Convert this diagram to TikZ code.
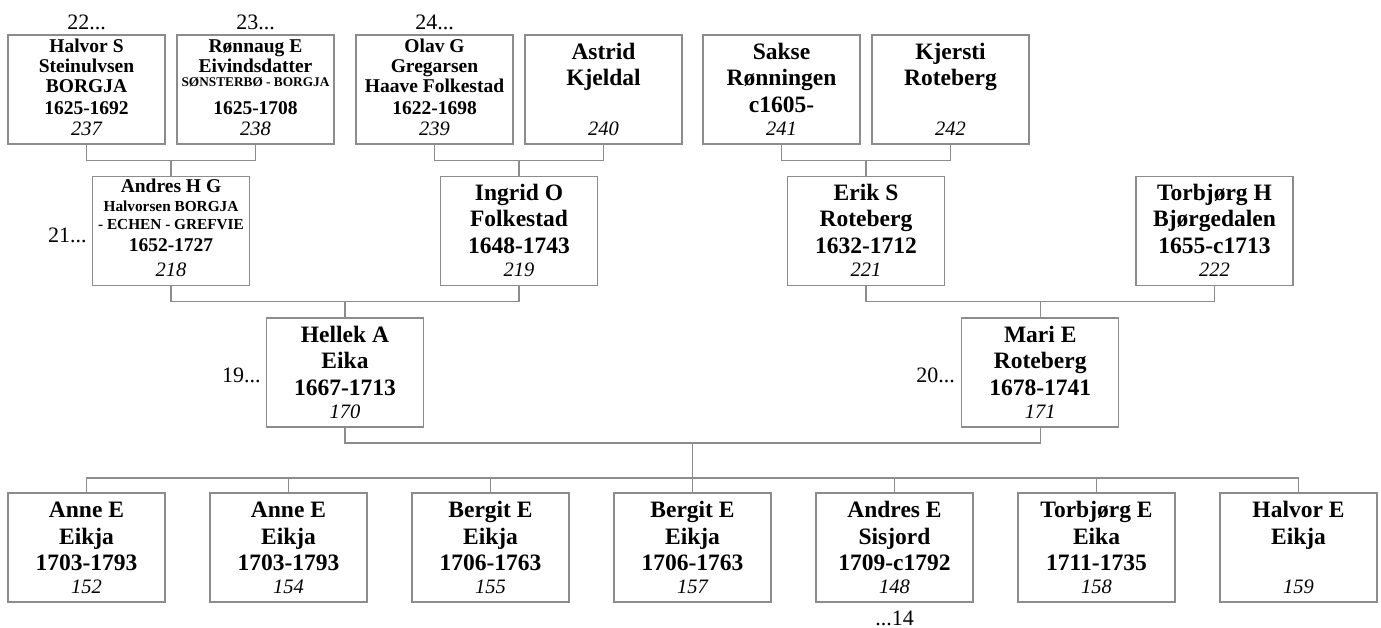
\documentclass[tikz,border=0pt]{standalone}
\usepackage{fontspec}
\setmainfont{Liberation Serif}
\usetikzlibrary{calc}
\definecolor{lc}{HTML}{8C8C8C}
\tikzset{
  pbox/.style={draw=lc, line width=1.4pt, minimum width=157pt, minimum height=109pt, inner sep=0pt, outer sep=0pt},
  ptxt/.style={inner sep=0pt, outer sep=0pt, align=center},
  big/.style={font=\bfseries\fontsize{23.5}{26.5}\selectfont},
  mid/.style={font=\bfseries\fontsize{19.5}{20}\selectfont},
  pnum/.style={inner sep=0pt, outer sep=0pt, font=\itshape\fontsize{20.5}{22}\selectfont},
  gen/.style={inner sep=0pt, outer sep=0pt, font=\fontsize{22}{24}\selectfont},
  conn/.style={draw=lc, line width=1.1pt}
}
\newcommand\PBox[7]{%
  \node[pbox, anchor=north west] (#1) at (#2,#3) {};
  \node[ptxt, #5, anchor=north] at ($(#1.north)+(0,#4)$) {\rule{0pt}{18pt}#6};
  \node[pnum, anchor=base] at ($(#1.south)+(0,-8.5)$) {#7};
}
\newcommand\Couple[3]{%
  \coordinate (m#3) at ($(#1.south)!0.5!(#3.north)$);
  \draw[conn] (#1.south) -- (#1.south |- m#3) -| (#2.south);
  \draw[conn] (#3.north) -- (#3.north |- m#3);
}
\begin{document}
\begin{tikzpicture}[x=1pt, y=-1pt]
\useasboundingbox (0,0) rectangle (1381,628);
% top row
\PBox{p237}{8}{35}{0}{mid}{Halvor S\\Steinulvsen\\BORGJA\\[2pt]1625-1692}{237}
\PBox{p238}{177}{35}{0}{mid}{Rønnaug E\\Eivindsdatter\\[-6pt]{\fontsize{13.3}{14}\selectfont SØNSTERBØ - BORGJA}\\[8pt]1625-1708}{238}
\PBox{p239}{356}{35}{0}{mid}{Olav G\\Gregarsen\\Haave Folkestad\\[2pt]1622-1698}{239}
\PBox{p240}{525}{35}{6.5}{big}{Astrid\\Kjeldal}{240}
\PBox{p241}{703}{35}{6.5}{big}{Sakse\\Rønningen\\c1605-}{241}
\PBox{p242}{872}{35}{6.5}{big}{Kjersti\\Roteberg}{242}
% second row
\PBox{p218}{92.5}{176.5}{-2}{mid}{Andres H G\\[-1pt]{\fontsize{15.3}{16}\selectfont Halvorsen BORGJA}\\[-2pt]{\fontsize{15.3}{16}\selectfont - ECHEN - GREFVIE}\\[2pt]1652-1727}{218}
\PBox{p219}{440.5}{176.5}{6}{big}{Ingrid O\\Folkestad\\1648-1743}{219}
\PBox{p221}{787.5}{176.5}{6}{big}{Erik S\\Roteberg\\1632-1712}{221}
\PBox{p222}{1136}{176.5}{6}{big}{Torbjørg H\\Bjørgedalen\\1655-c1713}{222}
% third row
\PBox{p170}{266.5}{318}{6}{big}{Hellek A\\Eika\\1667-1713}{170}
\PBox{p171}{961.75}{318}{6}{big}{Mari E\\Roteberg\\1678-1741}{171}
% children
\PBox{c152}{8}{493}{6.5}{big}{Anne E\\Eikja\\1703-1793}{152}
\PBox{c154}{210}{493}{6.5}{big}{Anne E\\Eikja\\1703-1793}{154}
\PBox{c155}{412}{493}{6.5}{big}{Bergit E\\Eikja\\1706-1763}{155}
\PBox{c157}{614}{493}{6.5}{big}{Bergit E\\Eikja\\1706-1763}{157}
\PBox{c148}{816}{493}{6.5}{big}{Andres E\\Sisjord\\1709-c1792}{148}
\PBox{c158}{1018}{493}{6.5}{big}{Torbjørg E\\Eika\\1711-1735}{158}
\PBox{c159}{1220}{493}{6.5}{big}{Halvor E\\Eikja}{159}
% generation labels
\node[gen, anchor=base] (g22) at ($(p237.north)+(0,-5)$) {22...};
\node[gen, anchor=base] (g23) at ($(p238.north)+(0,-5)$) {23...};
\node[gen, anchor=base] (g24) at ($(p239.north)+(0,-5)$) {24...};
\node[gen, anchor=base east] (g21) at ($(p218.west)+(-6,12)$) {21...};
\node[gen, anchor=base east] (g19) at ($(p170.west)+(-6,9.5)$) {19...};
\node[gen, anchor=base east] (g20) at ($(p171.west)+(-7,9.5)$) {20...};
\node[gen, anchor=base] (g14) at ($(c148.south)+(0,23)$) {...14};
% connectors
\Couple{p237}{p238}{p218}
\Couple{p239}{p240}{p219}
\Couple{p241}{p242}{p221}
\Couple{p218}{p219}{p170}
\Couple{p221}{p222}{p171}
\coordinate (fd) at ($(p170.south)!0.5!(p171.south)+(0,16)$);
\draw[conn] (p170.south) -- (p170.south |- fd) -| (p171.south);
\coordinate (sib) at ($(c152.north)+(0,-15)$);
\draw[conn] (fd) -- (fd |- sib);
\draw[conn] (c152.north) -- (sib) -| (c159.north);
\foreach \c in {154,155,157,148,158} \draw[conn] (c\c.north) -- ++(0,-15);
\end{tikzpicture}
\end{document}
